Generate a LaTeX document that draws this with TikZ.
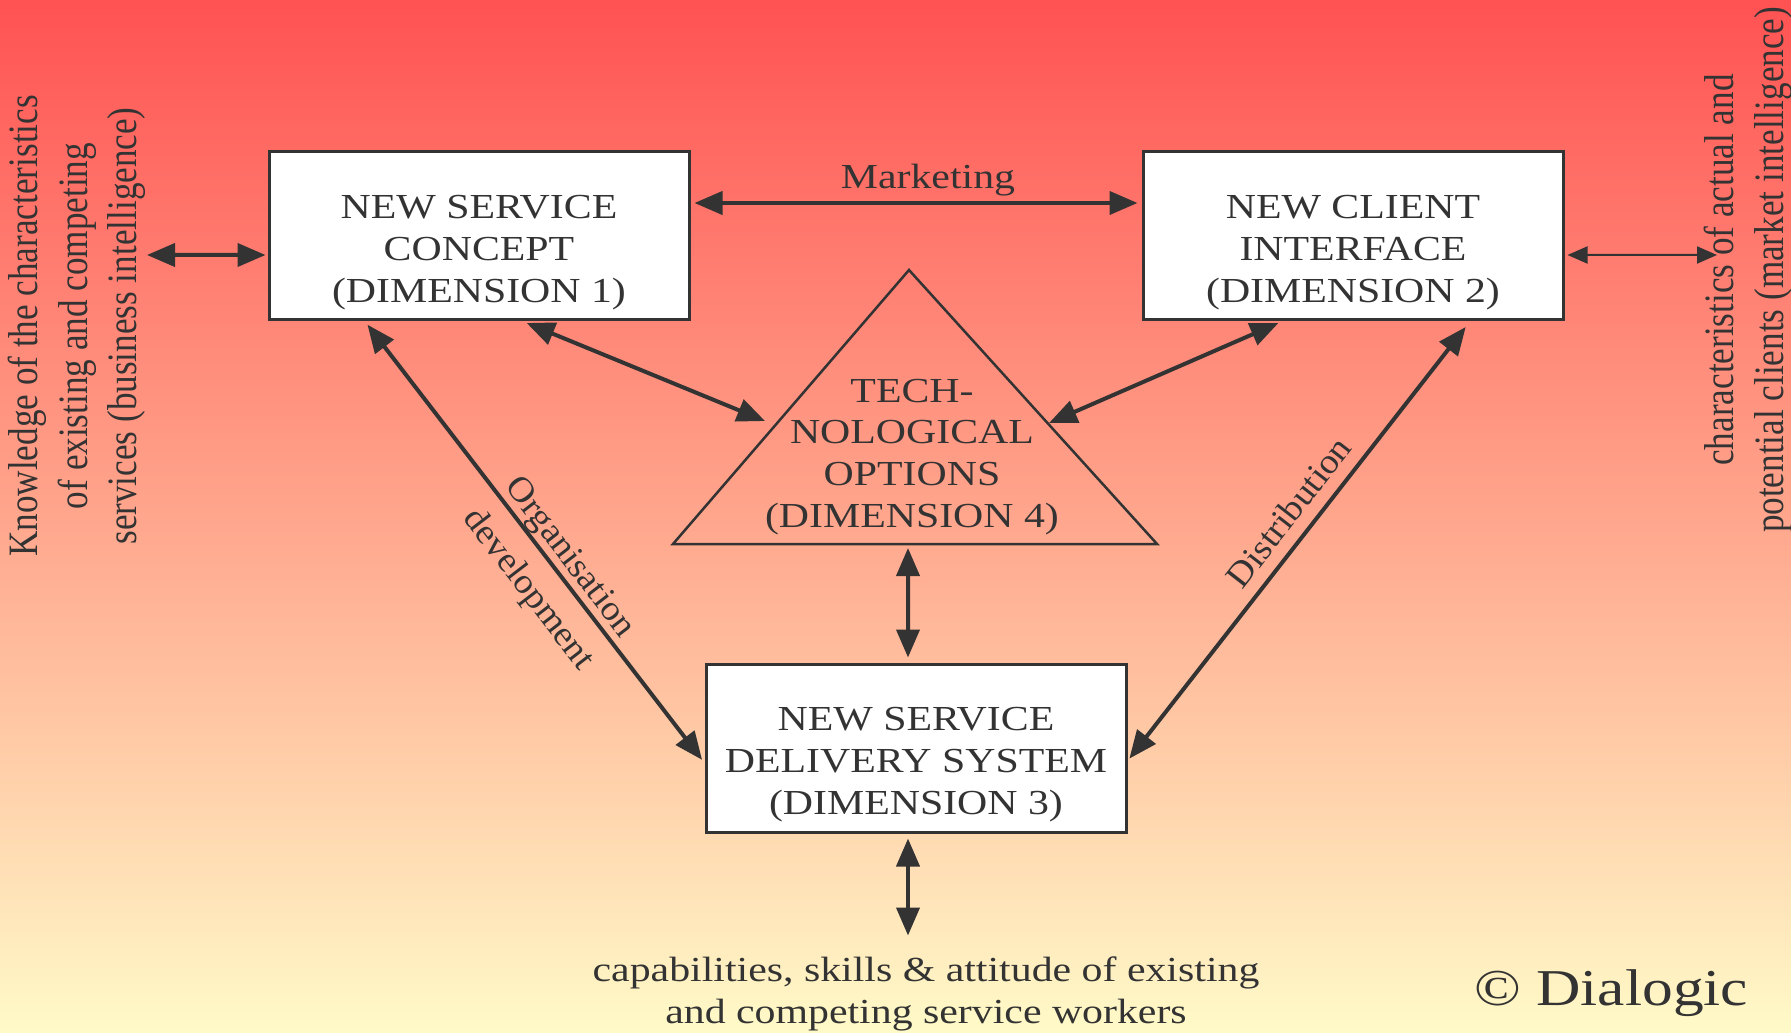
\documentclass[tikz,border=0pt]{standalone}
\usepackage{fontspec}
\setmainfont{Liberation Serif}[FakeStretch=1.19]
\newfontfamily\plainserif{Liberation Serif}
\newfontfamily\slopeserif{Liberation Serif}[FakeStretch=1.06]
\usepackage{tikz}
\usetikzlibrary{arrows.meta}
\definecolor{ink}{HTML}{333333}
\definecolor{topred}{RGB}{255,82,82}
\definecolor{paleyellow}{RGB}{255,250,200}
\newcommand{\dimtext}[1]{\raisebox{-1.6mm}[\height][\depth]{\begin{tabular}{@{}c@{}}#1\end{tabular}}}

\begin{document}
\begin{tikzpicture}[x=0.1mm, y=-0.1mm, >={Triangle[length=2.8mm,width=2.3mm]},
    every node/.style={text=ink, font=\fontsize{10}{11.9}\selectfont},
    dimbox/.style={draw=ink, line width=0.3mm, fill=white, minimum width=42mm, minimum height=16.8mm, inner sep=0pt},
    link/.style={draw=ink, line width=0.4mm, <->, shorten <=0.4mm, shorten >=0.4mm},
    thinlink/.style={draw=ink, line width=0.2mm, <->, >={Triangle[length=2mm,width=1.7mm]}, shorten <=0.3mm},
    sidetext/.style={align=center, font=\plainserif\fontsize{10}{11.9}\selectfont, xscale=1.19, rotate=90},
    linklabel/.style={font=\slopeserif\fontsize{10}{11.9}\selectfont, sloped}]
    \shade[top color=topred, bottom color=paleyellow] (0,0) rectangle (1791,1033);
    \useasboundingbox (0,0) rectangle (1791,1033);
    \node[dimbox] (concept) at (479,236) {\dimtext{NEW SERVICE\\CONCEPT\\(DIMENSION 1)}};
    \node[dimbox] (interface) at (1353,236) {\dimtext{NEW CLIENT\\INTERFACE\\(DIMENSION 2)}};
    \node[dimbox] (delivery) at (916,748) {\dimtext{NEW SERVICE\\DELIVERY SYSTEM\\(DIMENSION 3)}};
    \draw[ink, line width=0.25mm] (909,270) -- (1157,544) -- (673,544) -- cycle;
    \node[align=center] (techno) at (912,457) {TECH-\\NOLOGICAL\\OPTIONS\\(DIMENSION 4)};
    \coordinate (techno-l) at (765,421);
    \coordinate (techno-r) at (1049,423);
    \coordinate (techno-b) at (908,548);
    \node[sidetext] (bizintel) at (77,326) {Knowledge of the characteristics\\of existing and competing\\services (business intelligence)};
    \node[sidetext] (mktintel) at (1748,270) {characteristics of actual and\\potential clients (market intelligence)};
    \coordinate (bizintel-in) at (147,255);
    \coordinate (mktintel-in) at (1717,255);
    \node[align=center] (workers) at (926,994) {capabilities, skills \& attitude of existing\\and competing service workers};
    \node[font=\fontsize{14.7}{17}\selectfont, anchor=base west] (dialogic) at (1462,1005) {© Dialogic};
    \draw[link, shorten <=0pt, shorten >=0.2mm] (bizintel-in) -- ([yshift=-1.9mm]concept.west);
    \draw[thinlink] ([yshift=-1.9mm]interface.east) -- (mktintel-in);
    \draw[link] ([yshift=3.3mm]concept.east) -- node[above, inner sep=0.5mm, xshift=1.2mm] (marketing) {Marketing} ([yshift=3.3mm]interface.west);
    \draw[link, shorten >=0pt] ([xshift=4.4mm]concept.south) -- (techno-l);
    \draw[link, shorten >=0pt] ([xshift=-7.1mm]interface.south) -- (techno-r);
    \draw[link, shorten <=0pt, shorten >=0.5mm] (techno-b) -- ([xshift=-0.8mm]delivery.north);
    \draw[link] ([xshift=-11.4mm]concept.south) -- node[linklabel, pos=0.56, above, inner sep=0pt] (orgdev-a) {Organisation} node[linklabel, pos=0.56, below=0.5mm] (orgdev-b) {development} ([yshift=-1.5mm]delivery.west);
    \draw[link, shorten <=0.7mm, shorten >=0.3mm] ([xshift=11.7mm]interface.south) -- node[linklabel, pos=0.47, above] (distrib) {Distribution} ([yshift=-1.3mm]delivery.east);
    \draw[link, shorten <=0.5mm, shorten >=0.9mm] ([xshift=-0.8mm]delivery.south) -- ([xshift=-0.8mm]delivery.south |- workers.north);
\end{tikzpicture}
\end{document}
